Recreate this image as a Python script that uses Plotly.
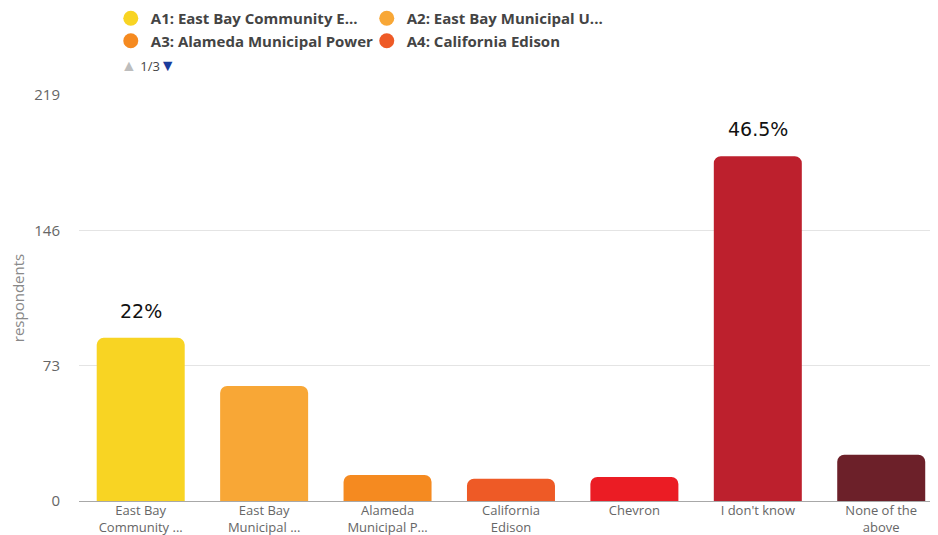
import plotly.graph_objects as go

categories = ["East Bay<br>Community ...", "East Bay<br>Municipal ...", "Alameda<br>Municipal P...",
              "California<br>Edison", "Chevron", "I don't know", "None of the<br>above"]
values = [88, 62, 14, 12, 13, 186, 25]
bar_labels = ["22%", "", "", "", "", "46.5%", ""]
colors = ["#F8D423", "#F8A736", "#F58A20", "#EE5A26", "#EB1C24", "#BD202D", "#6C2029"]
legend_names = ["A1: East Bay Community E...", "A2: East Bay Municipal U...",
                "A3: Alameda Municipal Power", "A4: California Edison"]
legend_groups = ["legend", "legend2", "legend", "legend2"]
y_ticks = [0, 73, 146, 219]

fig = go.Figure()
fig.add_trace(go.Bar(
    x=list(range(len(categories))), y=values,
    marker=dict(color=colors, cornerradius=7, line=dict(width=0)),
    showlegend=False, hoverinfo="skip",
))

for name, col, lg in zip(legend_names, colors[:4], legend_groups):
    fig.add_trace(go.Scatter(
        x=[None], y=[None], mode="markers", name=name, legend=lg,
        marker=dict(color=col, size=15, symbol="circle"),
    ))

for i, (v, lab) in enumerate(zip(values, bar_labels)):
    if lab:
        fig.add_annotation(x=i, y=v, text=lab, showarrow=False, yshift=27,
                           yanchor="middle",
                           font=dict(family="DejaVu Sans", size=19, color="#111"))

fig.add_annotation(xref="paper", yref="paper", x=0.0465, y=1.0738, xanchor="left",
                   yanchor="middle", showarrow=False,
                   text="<span style='color:#bdbdbd;font-size:16px'>▲</span> 1/3<span style='color:#1b3c9c;font-size:16px'>▼</span>",
                   font=dict(family="Open Sans", size=13, color="#444"))

legend_font = dict(family="Open Sans", size=15, color="#444", weight="bold")
fig.update_layout(
    width=930, height=527,
    margin=dict(l=71, r=0, t=87, b=34, autoexpand=False),
    paper_bgcolor="white", plot_bgcolor="white",
    bargap=0.287,
    legend=dict(x=0.037, y=1.229, xanchor="left", yanchor="top", orientation="v",
                font=legend_font, bgcolor="rgba(0,0,0,0)"),
    legend2=dict(x=0.335, y=1.229, xanchor="left", yanchor="top", orientation="v",
                 font=legend_font, bgcolor="rgba(0,0,0,0)"),
    xaxis=dict(
        tickmode="array", tickvals=list(range(len(categories))), ticktext=categories,
        range=[-0.5, 6.46], showgrid=False, zeroline=False,
        showline=True, linecolor="#a8a8a8", linewidth=1, automargin=False,
        ticklabelstandoff=-3,
        tickfont=dict(family="Open Sans", size=13, color="#666"),
    ),
    yaxis=dict(
        range=[0, 219], tickmode="array", tickvals=y_ticks,
        showgrid=True, gridcolor="#e4e4e4", gridwidth=1, zeroline=False,
        ticklabelstandoff=18, automargin=False,
        tickfont=dict(family="Open Sans", size=15, color="#666"),
        title=dict(text="respondents", standoff=20,
                   font=dict(family="Open Sans", size=15, color="#888")),
    ),
)

fig.write_html("out.html")
